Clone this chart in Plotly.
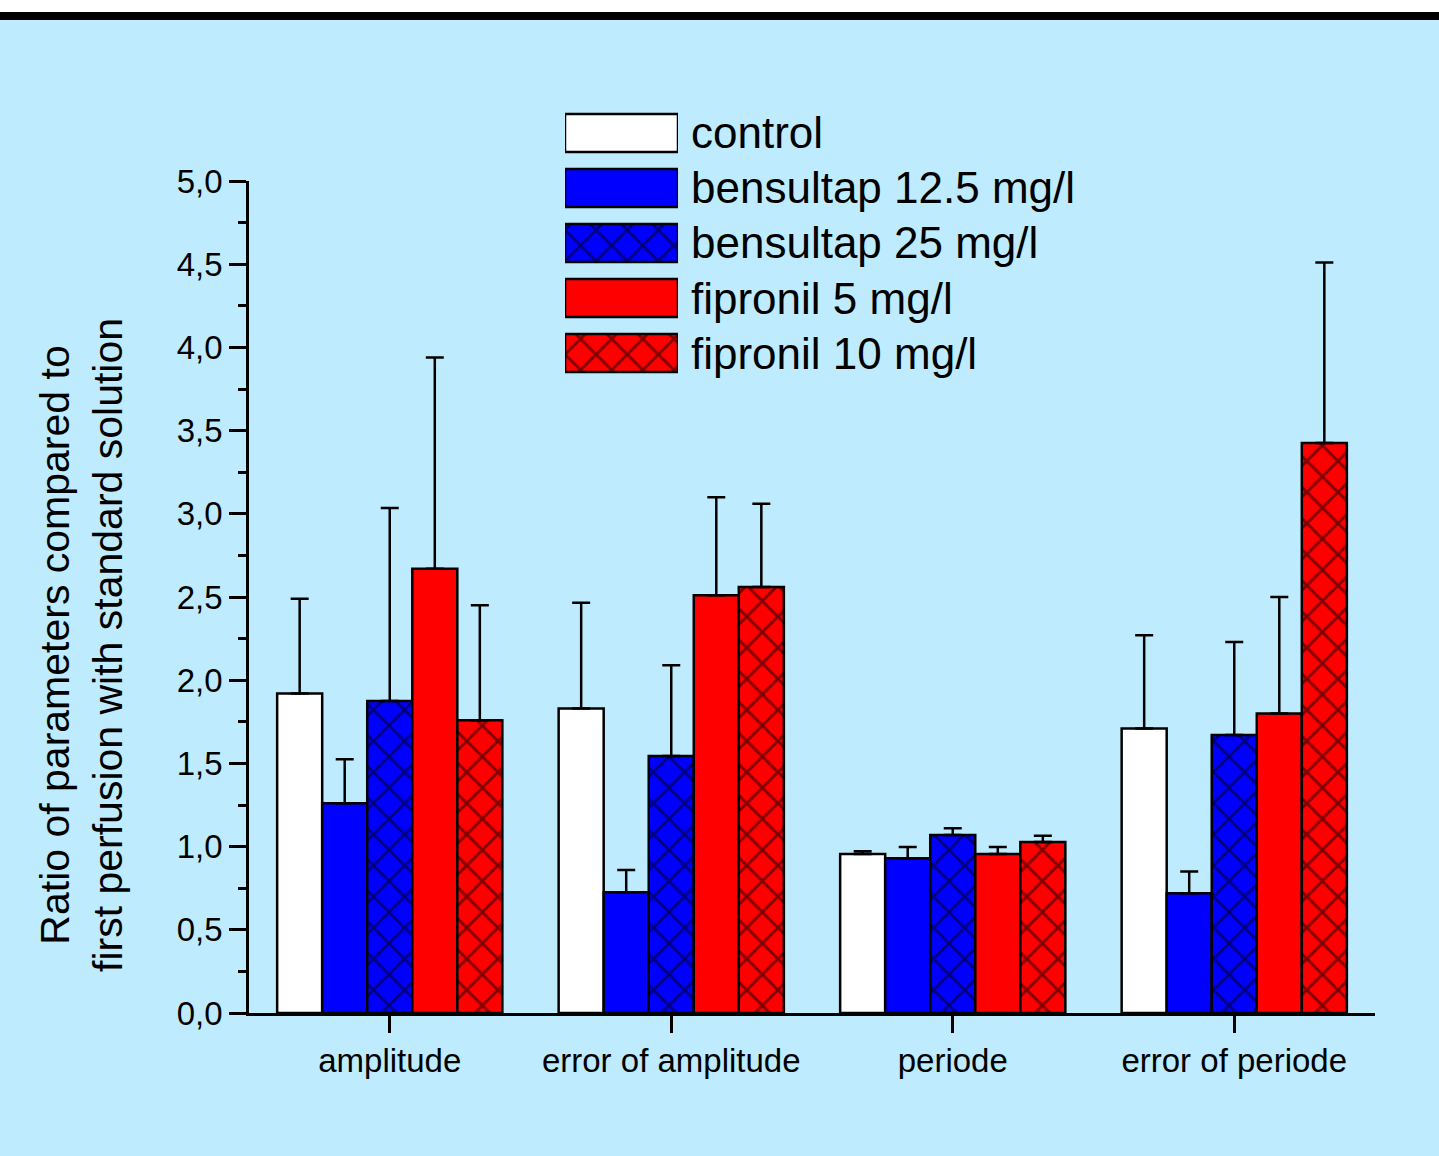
import plotly.graph_objects as go

# ---------------- data ----------------
categories = ["amplitude", "error of amplitude", "periode", "error of periode"]
series = ["control", "bensultap 12.5 mg/l", "bensultap 25 mg/l", "fipronil 5 mg/l", "fipronil 10 mg/l"]

control_mean = [1.92, 1.83, 0.955, 1.71]
control_top = [2.49, 2.465, 0.972, 2.27]
bens125_mean = [1.26, 0.725, 0.93, 0.72]
bens125_top = [1.525, 0.86, 0.998, 0.85]
bens25_mean = [1.875, 1.545, 1.07, 1.67]
bens25_top = [3.035, 2.09, 1.11, 2.23]
fip5_mean = [2.67, 2.51, 0.955, 1.80]
fip5_top = [3.94, 3.10, 0.998, 2.50]
fip10_mean = [1.76, 2.56, 1.027, 3.425]
fip10_top = [2.45, 3.06, 1.065, 4.51]

means = [control_mean, bens125_mean, bens25_mean, fip5_mean, fip10_mean]
tops = [control_top, bens125_top, bens25_top, fip5_top, fip10_top]

y_ticks = [0.0, 0.5, 1.0, 1.5, 2.0, 2.5, 3.0, 3.5, 4.0, 4.5, 5.0]

# ---------------- styles ----------------
colors = ["#FFFFFF", "#0000FF", "#0000FF", "#FF0000", "#FF0000"]
hatch = ["", "", "x", "", "x"]
BG = "#BEECFE"
FONT = "Liberation Sans, Arial, Helvetica, sans-serif"

W, H = 1439, 1156
ML, MR, MT, MB = 249, 64, 100, 143
PW, PH = W - ML - MR, H - MT - MB


def px_x(p):
    return (p - ML) / PW


def px_y(p):
    return (H - MB - p) / PH


fig = go.Figure()

for name, m, t, c, h in zip(series, means, tops, colors, hatch):
    err = [tt - mm for tt, mm in zip(t, m)]
    fig.add_trace(go.Bar(
        x=categories, y=m, name=name,
        marker=dict(color=c, line=dict(color="black", width=2.5),
                    pattern=dict(shape=h, fgcolor="black", bgcolor=c, size=22, solidity=0.24)),
        error_y=dict(type="data", array=err, arrayminus=[0] * len(err), symmetric=False,
                     color="black", thickness=2.5, width=9),
        showlegend=False,
    ))

# legend swatches as a separate hidden subplot (one trace per series)
for name, c, h in zip(series, colors, hatch):
    fig.add_trace(go.Bar(
        x=[1], y=[name], orientation="h", base=0, width=0.69, offsetgroup="legend",
        xaxis="x2", yaxis="y2",
        marker=dict(color=c, line=dict(color="black", width=2.5),
                    pattern=dict(shape=h, fgcolor="black", bgcolor=c, size=22, solidity=0.24)),
        showlegend=False, hoverinfo="skip",
    ))

annotations = []
for name in series:
    annotations.append(dict(x=px_x(689), xref="paper", y=name, yref="y2", text=name,
                            showarrow=False, xanchor="left", yanchor="middle",
                            font=dict(family=FONT, size=44, color="black")))

annotations.append(dict(x=px_x(81), xref="paper", y=px_y(645), yref="paper",
                        text="Ratio of parameters compared to<br>first perfusion with standard solution",
                        textangle=-90, showarrow=False, xanchor="center", yanchor="middle",
                        font=dict(family=FONT, size=41, color="black")))

shapes = [
    dict(type="rect", xref="paper", yref="paper", x0=-0.3, x1=1.2, y0=px_y(12), y1=px_y(-5),
         fillcolor="white", line=dict(width=0), layer="below"),
    dict(type="rect", xref="paper", yref="paper", x0=-0.3, x1=1.2, y0=px_y(20), y1=px_y(12),
         fillcolor="black", line=dict(width=0)),
]

fig.update_layout(
    width=W, height=H,
    margin=dict(l=ML, r=MR, t=MT, b=MB),
    paper_bgcolor=BG, plot_bgcolor=BG,
    barmode="group", bargap=0.2, bargroupgap=0,
    separators=",.",
    font=dict(family=FONT, color="black"),
    xaxis=dict(range=[-0.5, 3.5], showgrid=False, zeroline=False,
               showline=True, linecolor="black", linewidth=2.5,
               ticks="outside", ticklen=17, tickwidth=2.5, tickcolor="black",
               tickfont=dict(family=FONT, size=33), fixedrange=True),
    yaxis=dict(domain=[0, px_y(181)], range=[0, 5], showgrid=False, zeroline=False,
               showline=True, linecolor="black", linewidth=2.5,
               ticks="outside", ticklen=17, tickwidth=2.5, tickcolor="black",
               tickvals=y_ticks, tickformat=".1f",
               tickfont=dict(family=FONT, size=33),
               minor=dict(ticks="outside", ticklen=8, tickwidth=2.5, tickcolor="black", dtick=0.25, showgrid=False)),
    xaxis2=dict(domain=[px_x(565), px_x(678)], range=[0, 1], visible=False, anchor="y2"),
    yaxis2=dict(domain=[px_y(380.5), px_y(105.5)], visible=False, autorange="reversed",
                anchor="x2", categoryorder="array", categoryarray=series),
    annotations=annotations,
    shapes=shapes,
)

fig.write_html("out.html")
